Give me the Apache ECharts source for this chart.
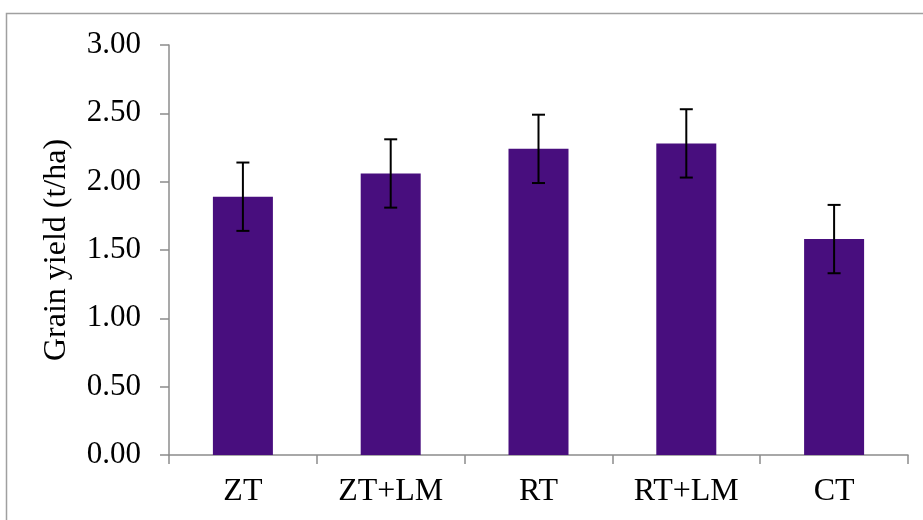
<!DOCTYPE html>
<html>
<head>
<meta charset="utf-8">
<script src="https://cdn.jsdelivr.net/npm/echarts@6/dist/echarts.min.js"></script>
<style>
html,body{margin:0;padding:0;background:#fff;}
#chart{width:923px;height:520px;}
</style>
</head>
<body>
<div id="chart"></div>
<script>
var categories = ['ZT', 'ZT+LM', 'RT', 'RT+LM', 'CT'];
var yieldValues = [1.89, 2.06, 2.24, 2.28, 1.58];
var errorValues = [0.25, 0.25, 0.25, 0.25, 0.25];
var yTicks = [0, 0.5, 1.0, 1.5, 2.0, 2.5, 3.0];

var errorData = yieldValues.map(function (v, i) {
  return [i, v - errorValues[i], v + errorValues[i]];
});

var FONT = '"Liberation Serif", "Times New Roman", serif';
var AXIS_COLOR = '#8c8c8c';

var chart = echarts.init(document.getElementById('chart'), null, {renderer: 'canvas'});
chart.setOption({
  backgroundColor: '#fff',
  animation: false,
  graphic: [{
    type: 'rect',
    shape: {x: 6.5, y: 13.5, width: 1000, height: 600},
    style: {fill: null, stroke: '#a0a0a0', lineWidth: 1.5},
    silent: true
  }],
  grid: {left: 169, right: 15, top: 45, bottom: 65, containLabel: false},
  xAxis: {
    type: 'category',
    data: categories,
    axisLine: {lineStyle: {color: AXIS_COLOR, width: 1.5}},
    axisTick: {show: true, length: 9, lineStyle: {color: AXIS_COLOR, width: 1.5}},
    axisLabel: {color: '#000', fontFamily: FONT, fontSize: 32, margin: 21}
  },
  yAxis: {
    type: 'value',
    min: yTicks[0],
    max: yTicks[yTicks.length - 1],
    interval: 0.5,
    name: 'Grain yield (t/ha)',
    nameLocation: 'middle',
    nameGap: 96,
    nameTextStyle: {color: '#000', fontFamily: FONT, fontSize: 32},
    axisLine: {show: true, lineStyle: {color: AXIS_COLOR, width: 1.5}},
    axisTick: {show: true, length: 9, lineStyle: {color: AXIS_COLOR, width: 1.5}},
    splitLine: {show: false},
    axisLabel: {
      color: '#000', fontFamily: FONT, fontSize: 31, margin: 28,
      formatter: function (v) { return v.toFixed(2); }
    }
  },
  series: [{
    type: 'bar',
    data: yieldValues,
    barWidth: 60,
    itemStyle: {color: '#480e7e'}
  }, {
    type: 'custom',
    data: errorData,
    z: 10,
    renderItem: function (params, api) {
      var x = api.value(0);
      var lo = api.coord([x, api.value(1)]);
      var hi = api.coord([x, api.value(2)]);
      var half = 6.5;
      var style = {stroke: '#000', lineWidth: 2};
      return {
        type: 'group',
        children: [
          {type: 'line', shape: {x1: hi[0], y1: hi[1], x2: lo[0], y2: lo[1]}, style: style},
          {type: 'line', shape: {x1: hi[0] - half, y1: hi[1], x2: hi[0] + half, y2: hi[1]}, style: style},
          {type: 'line', shape: {x1: lo[0] - half, y1: lo[1], x2: lo[0] + half, y2: lo[1]}, style: style}
        ]
      };
    }
  }]
});
</script>
</body>
</html>
